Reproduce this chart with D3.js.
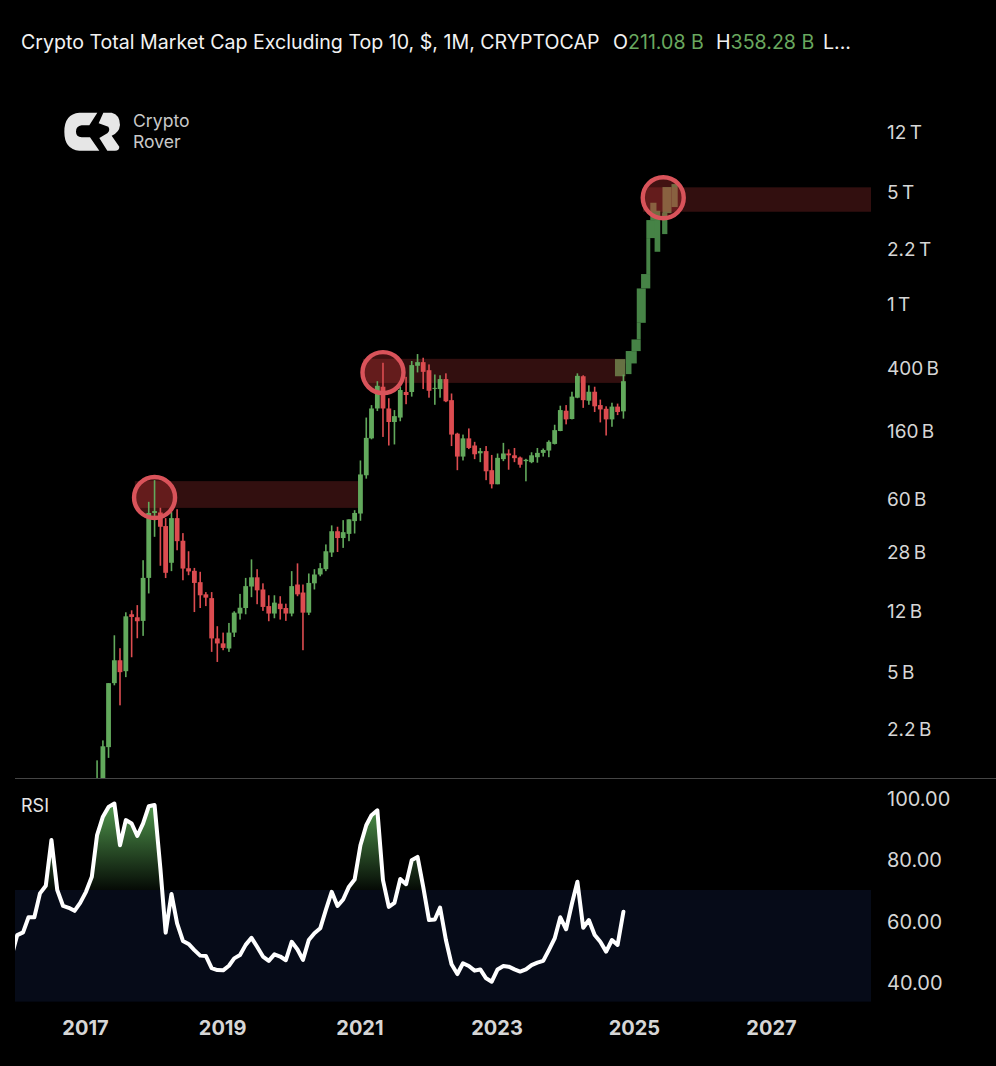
<!DOCTYPE html>
<html>
<head>
<meta charset="utf-8">
<title>Crypto Total Market Cap Excluding Top 10</title>
<script src="https://cdn.jsdelivr.net/npm/d3@7"></script>
<style>
  html, body { margin: 0; padding: 0; background: #000; }
  svg { display: block; }
  text { font-family: Inter, "Liberation Sans", sans-serif; }
</style>
</head>
<body>
<svg id="chart" width="996" height="1066"></svg>
<script>
"use strict";

/* ── Monthly candles, Mar 2017 → Nov 2024, values in $ billions ── */
const firstCandle = "2017-03-01";
const candleOpen = [
  0.78, 0.90, 1.67, 4.20, 5.84, 4.99, 11.33, 10.85, 10.3, 19.14,
  48.8, 49.1, 40.4, 23.8, 45.3, 32.7, 22.0, 21.2, 18.0, 15.1, 14.3, 8.0,
  7.45, 6.92, 8.7, 11.45, 12.4, 16.9, 19.3, 16.2, 12.75, 11.45, 13.2, 12.4,
  11.45, 17.4, 15.5, 11.6, 17.7, 20.1, 21.7, 27.6, 37.5, 34.0, 36.1, 43.4,
  48.4, 84, 143, 220, 301, 220, 181, 193, 279, 279, 407, 429,
  382, 292, 291, 336, 248, 153, 110, 143, 129, 115.3, 119, 90.4,
  73.8, 106, 115, 112, 108.5, 103, 101.5, 109, 116, 120, 132, 159,
  213, 189, 257, 350, 246, 280, 231, 219, 188, 226, 211.08
];
const candleHigh = [
  1.38, 1.84, 4.20, 8.37, 6.95, 11.66, 12.0, 12.93, 24.7, 57.3,
  78.3, 52.6, 45.3, 49.4, 51.5, 36.5, 28.1, 22.1, 20.9, 15.6, 15.6, 9.54,
  8.7, 10.0, 11.83, 15.2, 19.14, 25.0, 21.7, 17.7, 14.9, 14.9, 14.7, 13.2,
  21.1, 23.6, 17.4, 20.4, 21.7, 23.7, 31.0, 40.8, 40, 44, 44.5, 50.8,
  104, 193, 231, 326, 425, 255, 215, 301, 347, 436, 482, 457,
  415, 359, 355, 365, 273, 155, 151, 165, 136, 124.5, 128, 112.6,
  115, 134, 122, 124.5, 110, 106.5, 117, 124.5, 123.5, 139, 174, 229,
  231, 280, 365, 355, 307, 301, 250, 227, 239, 236, 358.28
];
const candleLow = [
  0.68, 0.78, 1.43, 4.07, 3.05, 4.58, 6.10, 8.02, 8.3, 15.3,
  34.6, 22.8, 19.1, 21.1, 28.5, 18.5, 19.9, 11.7, 12.4, 12.75, 6.59, 5.7,
  6.75, 6.59, 8.17, 10.5, 11.33, 14.5, 13.1, 11.9, 10.25, 10.7, 10.5, 10.3,
  11.0, 14.7, 6.75, 11.2, 16.2, 19.6, 21.1, 25.9, 27.8, 29.5, 32.5, 36.3,
  43.6, 80, 141, 212, 146, 129, 131, 183, 234, 261, 370, 291,
  257, 232, 257, 241, 128, 90.4, 104, 122.5, 106, 101.5, 78.3, 69.5,
  73.8, 103, 91, 101.5, 93.7, 77, 100, 100.7, 110, 109, 131, 158.6,
  175, 188, 255, 222, 232, 209, 180, 149, 169, 200, 190
];
const candleClose = [
  1.01, 1.69, 4.20, 5.84, 4.92, 11.0, 10.9, 10.25, 19.14, 48.8,
  50.1, 40.0, 20.6, 45.3, 32.5, 21.9, 21.0, 17.8, 14.9, 14.4, 8.0, 7.44,
  6.98, 8.7, 11.6, 12.45, 17.0, 19.3, 16.0, 12.6, 11.45, 13.4, 12.2, 11.45,
  17.0, 15.1, 11.6, 17.8, 20.1, 22.0, 28.1, 37.5, 34.0, 37.0, 44.5, 48.8,
  85, 144, 220, 305, 220, 181, 197, 287, 267, 411, 429, 373,
  284, 296, 336, 244, 151, 110, 143, 124.5, 113.7, 119, 89, 73.8,
  108, 115, 112, 107.5, 97.8, 105, 112, 116, 121, 136, 161, 215,
  188, 261, 352, 248, 280, 227, 217, 188, 226, 209, 326
];

/* ── Projected blocks (dark green, no wicks) ── */
const ghostFrom = ["2024-09-17", "2024-11-14", "2024-11-14", "2024-12-14", "2025-01-11", "2025-01-11", "2025-02-03", "2025-03-03", "2025-03-03", "2025-04-16", "2025-03-24", "2025-04-22", "2025-05-26", "2025-05-28", "2025-07-15"];
const ghostTo   = ["2024-11-11", "2024-12-14", "2025-01-11", "2025-02-01", "2025-02-01", "2025-02-28", "2025-03-24", "2025-03-24", "2025-05-09", "2025-05-16", "2025-04-26", "2025-05-16", "2025-06-23", "2025-07-15", "2025-08-17"];
const ghostHigh = [448, 503, 503, 595, 756, 1241, 1527, 2564, 3324, 3324, 4266, 3803, 3679, 5349, 5585];
const ghostLow  = [350, 361, 421, 503, 595, 756, 1241, 1527, 2564, 2105, 3324, 3324, 2716, 3679, 4010];

/* ── Resistance bands + circled tops ── */
const bandFrom = ["2017-09-18", "2021-01-14", "2025-02-13"];
const bandTo   = ["2021-01-01", "2024-11-11", "2028-06-15"];
const bandHigh = [77.2, 450, 5328];
const bandLow  = [52.5, 318, 3748];
const topDate  = ["2018-01-01", "2021-05-01", "2025-06-01"];
const topValue = [61, 369, 4586];

/* ── RSI, Dec 2015 → Nov 2024 ── */
const firstRsi = "2015-12-01";
const rsiValues = [
  48.3,
  55.3, 56.2, 61.1, 61.1, 68.9, 71.4, 86.3, 70.0, 64.8, 64.2, 63.2, 65.8,
  69.4, 74.3, 87.9, 93.9, 97.1, 98.2, 84.6, 92.8, 91.7, 87.6, 91.7, 97.3,
  97.7, 77.0, 56.1, 68.7, 59.1, 53.4, 52.4, 50.4, 48.6, 48.5, 44.5, 43.9,
  43.8, 45.3, 47.7, 48.8, 52.1, 54.4, 51.5, 48.3, 46.9, 49.0, 48.3, 47.1,
  53.1, 50.6, 47.2, 53.7, 55.9, 57.5, 63.5, 69.4, 64.8, 66.9, 71.1, 73.4,
  84.6, 91.1, 94.4, 96.0, 73.2, 64.5, 65.8, 73.6, 71.9, 79.7, 80.8, 71.1,
  60.2, 60.4, 64.3, 53.7, 45.8, 42.6, 46.1, 45.2, 43.7, 44.1, 41.2, 40.1,
  44.1, 45.2, 45.0, 44.1, 43.4, 44.1, 45.5, 46.3, 46.9, 50.4, 54.2, 61.1,
  57.2, 65.6, 72.7, 57.7, 60.2, 55.3, 53.1, 49.9, 53.7, 52.1, 62.9
];

/* ── Axis ticks ── */
const priceTicks  = [12000, 5000, 2200, 1000, 400, 160, 60, 28, 12, 5, 2.2];
const priceLabels = ["12 T", "5 T", "2.2 T", "1 T", "400 B", "160 B", "60 B", "28 B", "12 B", "5 B", "2.2 B"];
const rsiTicks    = [100, 80, 60, 40];
const yearTicks   = [2017, 2019, 2021, 2023, 2025, 2027];

/* ── Layout / palette ── */
const PANE = { left: 15, right: 871, top: 60, split: 778 };
const UP = "#62a95c", DOWN = "#dc4c50", GHOST = "#468346", RING = "#d9535a";
const AXIS_TXT = "#d6d6d6";

const svg = d3.select("#chart");
const parse = d3.utcParse("%Y-%m-%d");

const x = d3.scaleUtc()
  .domain([parse("2017-01-01"), parse("2027-01-01")])
  .range([86, 772]);
const y = d3.scaleLog().domain([12000, 2.2]).range([131, 728]);
const yRsi = d3.scaleLinear().domain([100, 40]).range([798, 982]);

const candleMonths = d3.utcMonth.range(parse(firstCandle), parse("2024-12-01"));
const rsiMonths = d3.utcMonth.range(parse(firstRsi), parse("2024-12-01"));

const defs = svg.append("defs");
defs.append("clipPath").attr("id", "clip-price").append("rect")
  .attr("x", PANE.left).attr("y", PANE.top)
  .attr("width", PANE.right - PANE.left).attr("height", PANE.split - PANE.top);
defs.append("clipPath").attr("id", "clip-rsi-top").append("rect")
  .attr("x", PANE.left).attr("y", yRsi(100) - 10)
  .attr("width", PANE.right - PANE.left).attr("height", yRsi(70) - yRsi(100) + 10);
defs.append("clipPath").attr("id", "clip-rsi").append("rect")
  .attr("x", PANE.left).attr("y", PANE.split)
  .attr("width", PANE.right - PANE.left).attr("height", 240);

const grad = defs.append("linearGradient").attr("id", "rsi-fill")
  .attr("gradientUnits", "userSpaceOnUse")
  .attr("x1", 0).attr("x2", 0).attr("y1", yRsi(100)).attr("y2", yRsi(70));
grad.append("stop").attr("offset", 0).attr("stop-color", "#56a152");
grad.append("stop").attr("offset", 1).attr("stop-color", "#050a05");

svg.append("rect").attr("width", 996).attr("height", 1066).attr("fill", "#000");

/* ── Title ── */
const title = svg.append("text").attr("x", 21).attr("y", 49)
  .attr("font-size", 19.6).attr("fill", "#f2f2f2");
title.append("tspan").text("Crypto Total Market Cap Excluding Top 10, $, 1M, CRYPTOCAP");
title.append("tspan").attr("x", 613).text("O");
title.append("tspan").attr("fill", "#69a85f").text("211.08 B");
title.append("tspan").attr("x", 716).text("H");
title.append("tspan").attr("fill", "#69a85f").text("358.28 B");
title.append("tspan").attr("x", 823).text("L...");

/* ── Logo ── */
const logo = svg.append("g").attr("transform", "translate(0,20) scale(0.3333)").attr("fill", "#e6e6e6");
logo.append("path").attr("d", "M292,278 L238,278 Q193,282 193,335 Q193,388 238,392 L298,392 L270,352 L245,352 Q228,350 228,335 Q228,318 245,316 L268,316 Z");
logo.append("path").attr("d", "M310,278 L335,278 Q360,284 360,315 Q358,338 335,347 L358,380 Q358,392 345,392 L322,392 L298,354 L322,340 Q332,330 325,320 L296,310 Z");
svg.append("text").attr("x", 133).attr("y", 127).attr("font-size", 17.6).attr("fill", "#c9c9c9").text("Crypto");
svg.append("text").attr("x", 133).attr("y", 148).attr("font-size", 17.6).attr("fill", "#c9c9c9").text("Rover");

/* ── Price pane ── */
const price = svg.append("g").attr("clip-path", "url(#clip-price)");

price.append("g").selectAll("rect")
  .data(ghostFrom.map((d, i) => ({ from: parse(d), to: parse(ghostTo[i]), high: ghostHigh[i], low: ghostLow[i] })))
  .join("rect")
  .attr("x", (d) => x(d.from))
  .attr("width", (d) => x(d.to) - x(d.from))
  .attr("y", (d) => y(d.high))
  .attr("height", (d) => y(d.low) - y(d.high))
  .attr("fill", GHOST);

price.append("g").selectAll("rect")
  .data(bandFrom.map((d, i) => ({ from: parse(d), to: parse(bandTo[i]), high: bandHigh[i], low: bandLow[i] })))
  .join("rect")
  .attr("x", (d) => x(d.from))
  .attr("width", (d) => x(d.to) - x(d.from))
  .attr("y", (d) => y(d.high))
  .attr("height", (d) => y(d.low) - y(d.high))
  .attr("fill", "rgba(200,60,60,0.25)");

const tops = topDate.map((d, i) => ({ date: parse(d), value: topValue[i] }));

price.append("g").selectAll("circle")
  .data(tops)
  .join("circle")
  .attr("cx", (d) => x(d.date))
  .attr("cy", (d) => y(d.value))
  .attr("r", 20.5)
  .attr("fill", "rgba(220,60,60,0.3)");

const candles = price.append("g").selectAll("g")
  .data(candleMonths.map((d, i) => ({ date: d, o: candleOpen[i], h: candleHigh[i], l: candleLow[i], c: candleClose[i] })))
  .join("g")
  .attr("fill", (d) => (d.c >= d.o ? UP : DOWN));

candles.append("rect")
  .attr("x", (d) => x(d.date) - 0.8).attr("width", 1.6)
  .attr("y", (d) => y(d.h))
  .attr("height", (d) => y(d.l) - y(d.h));

candles.append("rect")
  .attr("x", (d) => x(d.date) - 2.4).attr("width", 4.8)
  .attr("y", (d) => y(Math.max(d.o, d.c)))
  .attr("height", (d) => Math.max(1, y(Math.min(d.o, d.c)) - y(Math.max(d.o, d.c))));

price.append("g").selectAll("circle")
  .data(tops)
  .join("circle")
  .attr("cx", (d) => x(d.date))
  .attr("cy", (d) => y(d.value))
  .attr("r", 20.5)
  .attr("fill", "none")
  .attr("stroke", RING)
  .attr("stroke-width", 4.4);

svg.append("line")
  .attr("x1", PANE.left).attr("x2", 996)
  .attr("y1", PANE.split + 0.5).attr("y2", PANE.split + 0.5)
  .attr("stroke", "#454545");

/* ── RSI pane ── */
const rsiData = rsiMonths.map((d, i) => ({ date: d, v: rsiValues[i] }));
const rsi = svg.append("g").attr("clip-path", "url(#clip-rsi)");

rsi.append("rect")
  .attr("x", PANE.left).attr("width", PANE.right - PANE.left)
  .attr("y", yRsi(70)).attr("height", yRsi(33.6) - yRsi(70))
  .attr("fill", "#060b18");

rsi.append("path")
  .datum(rsiData)
  .attr("clip-path", "url(#clip-rsi-top)")
  .attr("fill", "url(#rsi-fill)")
  .attr("d", d3.area().x((d) => x(d.date)).y0(yRsi(70)).y1((d) => yRsi(d.v)));

rsi.append("path")
  .datum(rsiData)
  .attr("fill", "none")
  .attr("stroke", "#fff")
  .attr("stroke-width", 4)
  .attr("stroke-linejoin", "round")
  .attr("stroke-linecap", "round")
  .attr("d", d3.line().x((d) => x(d.date)).y((d) => yRsi(d.v)));

svg.append("text").attr("x", 21).attr("y", 812)
  .attr("font-size", 18).attr("fill", "#e6e6e6").text("RSI");

/* ── Axes ── */
const styleAxis = (size) => (g) => {
  g.select(".domain").remove();
  g.selectAll(".tick line").remove();
  g.selectAll("text").attr("fill", AXIS_TXT).attr("font-size", size)
    .attr("font-family", "Inter, 'Liberation Sans', sans-serif");
};

svg.append("g").attr("transform", "translate(887,1)")
  .call(d3.axisRight(y).tickValues(priceTicks).tickSize(0).tickPadding(0)
    .tickFormat((d, i) => priceLabels[i]))
  .call(styleAxis(19))
  .call((g) => g.selectAll("text").attr("word-spacing", "-2"));

svg.append("g").attr("transform", "translate(887,1)")
  .call(d3.axisRight(yRsi).tickValues(rsiTicks).tickSize(0).tickPadding(0)
    .tickFormat(d3.format(".2f")))
  .call(styleAxis(20));

svg.append("g").attr("transform", "translate(-1,1021)")
  .call(d3.axisBottom(x).tickValues(yearTicks.map((d) => new Date(Date.UTC(d, 0, 1))))
    .tickSize(0).tickPadding(0).tickFormat(d3.utcFormat("%Y")))
  .call(styleAxis(20))
  .call((g) => g.selectAll("text").attr("font-weight", 700));
</script>
</body>
</html>
